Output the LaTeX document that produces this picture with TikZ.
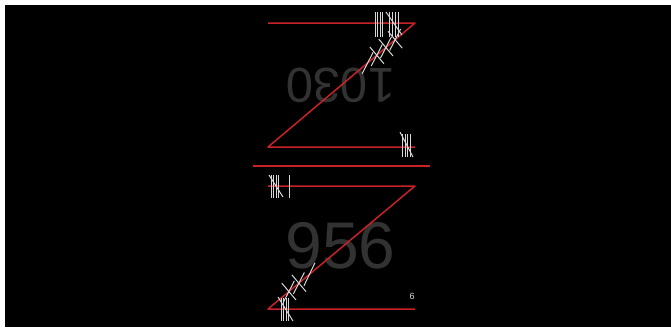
\documentclass[tikz,border=0pt]{standalone}
\usepackage{fontspec}
\setmainfont{Liberation Sans}
\usetikzlibrary{calc}
\definecolor{zred}{RGB}{200,34,40}
\definecolor{tallygray}{RGB}{215,215,215}
\definecolor{numgray}{RGB}{50,50,50}

\begin{document}
\begin{tikzpicture}[x=1pt,y=-1pt,line join=round,
  zline/.style={zred,line width=1.5pt},
  tally/.style={tallygray,line width=1pt},
  numtext/.style={numgray,inner sep=0pt}]
  \useasboundingbox (0,0) rectangle (671,327);
  \fill[white] (0,0) rectangle (671,327);
  \fill[black] (5,5) rectangle (671,327);
  % upper Z
  \coordinate (TL0) at (268,23);
  \coordinate (TR0) at (415,23);
  \coordinate (TL1) at (268,147);
  \coordinate (TR1) at (415,147);
  % lower Z
  \coordinate (BL0) at (268,186);
  \coordinate (BR0) at (415,186);
  \coordinate (BL1) at (268,309);
  \coordinate (BR1) at (415,309);
  % divider
  \coordinate (D0) at (253,166);
  \coordinate (D1) at (430,166);
  % big numbers
  \node[numtext,font=\fontsize{49}{49}\selectfont,rotate=180] (upper) at (340.5,85.5) {1030};
  \node[numtext,font=\fontsize{66}{66}\selectfont] (lower) at (340.5,245.5) {956};
  % strokes
  \draw[zline] (TL0) -- (TR0) -- (TL1) -- (TR1);
  \draw[zline] (BL0) -- (BR0) -- (BL1) -- (BR1);
  \draw[zred,line width=2.6pt] (D0) -- (D1);
  % tallies, upper top line
  \draw[tally] (375,12) -- (375,37);
  \draw[tally] (377.5,12) -- (377.5,37);
  \draw[tally] (380,12) -- (380,37);
  \draw[tally] (382.5,12) -- (382.5,37);
  \draw[tally] (389,12) -- (389,37);
  \draw[tally] (392,12) -- (392,37);
  \draw[tally] (395,12) -- (395,37);
  \draw[tally] (398,12) -- (398,37);
  \draw[tally] (386,12) -- (402,35);
  % tallies, upper diagonal
  \coordinate (U1) at ($(TR0)!0.135!(TL1)$);
  \coordinate (U2) at ($(TR0)!0.198!(TL1)$);
  \coordinate (U3) at ($(TR0)!0.260!(TL1)$);
  \coordinate (U4) at ($(TR0)!0.322!(TL1)$);
  \draw[tally] ($(U1)+(-7.1,-8.4)$) -- ($(U1)+(7.1,8.4)$);
  \draw[tally] ($(U2)+(-7.1,-8.4)$) -- ($(U2)+(7.1,8.4)$);
  \draw[tally] ($(U3)+(-7.1,-8.4)$) -- ($(U3)+(7.1,8.4)$);
  \draw[tally] ($(U1)+(-5.5,10.7)$) -- ($(U1)+(5.5,-10.7)$);
  \draw[tally] ($(U2)+(-5.5,10.7)$) -- ($(U2)+(5.5,-10.7)$);
  \draw[tally] ($(U3)+(-5.5,10.7)$) -- ($(U3)+(5.5,-10.7)$);
  \draw[tally] ($(U4)+(-5.5,10.7)$) -- ($(U4)+(5.5,-10.7)$);
  % tallies, upper bottom line
  \draw[tally] (402.5,134) -- (402.5,157);
  \draw[tally] (405,134) -- (405,157);
  \draw[tally] (407.5,134) -- (407.5,157);
  \draw[tally] (410,134) -- (410,157);
  \draw[tally] (400,132) -- (413,157);
  % tallies, lower top line
  \draw[tally] (271,175) -- (271,198);
  \draw[tally] (273.5,175) -- (273.5,198);
  \draw[tally] (276,175) -- (276,198);
  \draw[tally] (278.5,175) -- (278.5,198);
  \draw[tally] (269,175) -- (283,197);
  \draw[tally] (289,175) -- (289,198);
  % tallies, lower diagonal
  \coordinate (V1) at ($(BR0)!0.718!(BL1)$);
  \coordinate (V2) at ($(BR0)!0.790!(BL1)$);
  \coordinate (V3) at ($(BR0)!0.858!(BL1)$);
  \draw[tally] ($(V1)+(-5.5,11.5)$) -- ($(V1)+(5.5,-11.5)$);
  \draw[tally] ($(V2)+(-5.5,10.7)$) -- ($(V2)+(5.5,-10.7)$);
  \draw[tally] ($(V3)+(-5.5,10.7)$) -- ($(V3)+(5.5,-10.7)$);
  \draw[tally] ($(V2)+(-7.1,-8.4)$) -- ($(V2)+(7.1,8.4)$);
  \draw[tally] ($(V3)+(-7.1,-8.4)$) -- ($(V3)+(7.1,8.4)$);
  % tallies, lower bottom line
  \draw[tally] (281,298) -- (281,321);
  \draw[tally] (283.5,298) -- (283.5,321);
  \draw[tally] (286,298) -- (286,321);
  \draw[tally] (288.5,298) -- (288.5,321);
  \draw[tally] (278,297) -- (293,321);
  % page number
  \node[tallygray,font=\fontsize{9}{9}\selectfont,inner sep=0pt] (page) at (412,296) {6};
\end{tikzpicture}
\end{document}
